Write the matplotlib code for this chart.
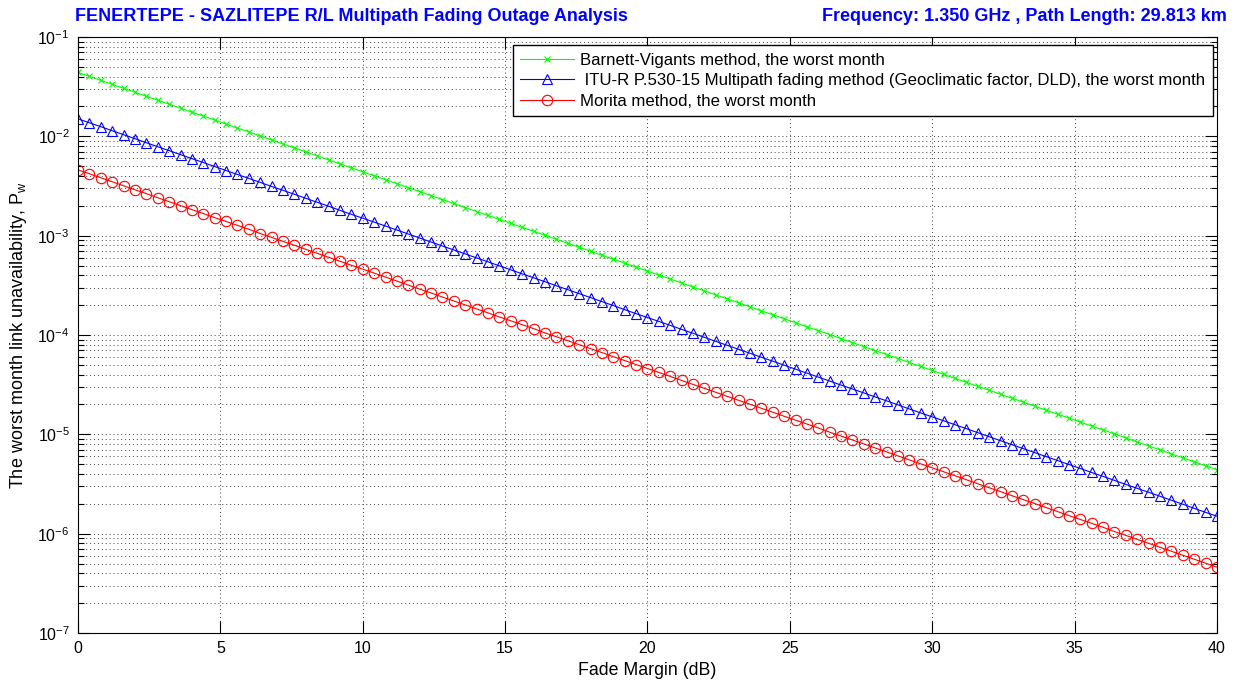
"""Multipath fading outage analysis: worst month unavailability vs fade margin."""

import matplotlib

matplotlib.use("Agg")
import matplotlib.pyplot as plt
import numpy as np
from matplotlib.ticker import FixedLocator, LogLocator, NullFormatter

plt.rcParams["font.family"] = ["Liberation Sans", "DejaVu Sans"]

# %% Data (one point every 0.4 dB)
fade_margin = np.linspace(0, 40, 101)

barnett_vigants = [
    4.40e-2, 4.01e-2, 3.66e-2, 3.34e-2, 3.04e-2, 2.78e-2, 2.53e-2, 2.31e-2, 2.11e-2, 1.92e-2,
    1.75e-2, 1.60e-2, 1.46e-2, 1.33e-2, 1.21e-2, 1.11e-2, 1.01e-2, 9.19e-3, 8.38e-3, 7.65e-3,
    6.97e-3, 6.36e-3, 5.80e-3, 5.29e-3, 4.82e-3,
    4.40e-3, 4.01e-3, 3.66e-3, 3.34e-3, 3.04e-3, 2.78e-3, 2.53e-3, 2.31e-3, 2.11e-3, 1.92e-3,
    1.75e-3, 1.60e-3, 1.46e-3, 1.33e-3, 1.21e-3, 1.11e-3, 1.01e-3, 9.19e-4, 8.38e-4, 7.65e-4,
    6.97e-4, 6.36e-4, 5.80e-4, 5.29e-4, 4.82e-4,
    4.40e-4, 4.01e-4, 3.66e-4, 3.34e-4, 3.04e-4, 2.78e-4, 2.53e-4, 2.31e-4, 2.11e-4, 1.92e-4,
    1.75e-4, 1.60e-4, 1.46e-4, 1.33e-4, 1.21e-4, 1.11e-4, 1.01e-4, 9.19e-5, 8.38e-5, 7.65e-5,
    6.97e-5, 6.36e-5, 5.80e-5, 5.29e-5, 4.82e-5,
    4.40e-5, 4.01e-5, 3.66e-5, 3.34e-5, 3.04e-5, 2.78e-5, 2.53e-5, 2.31e-5, 2.11e-5, 1.92e-5,
    1.75e-5, 1.60e-5, 1.46e-5, 1.33e-5, 1.21e-5, 1.11e-5, 1.01e-5, 9.19e-6, 8.38e-6, 7.65e-6,
    6.97e-6, 6.36e-6, 5.80e-6, 5.29e-6, 4.82e-6,
    4.40e-6,
]

itu_r_p530 = [
    1.50e-2, 1.37e-2, 1.25e-2, 1.14e-2, 1.04e-2, 9.47e-3, 8.63e-3, 7.87e-3, 7.18e-3, 6.55e-3,
    5.97e-3, 5.45e-3, 4.97e-3, 4.53e-3, 4.13e-3, 3.77e-3, 3.44e-3, 3.13e-3, 2.86e-3, 2.61e-3,
    2.38e-3, 2.17e-3, 1.98e-3, 1.80e-3, 1.64e-3,
    1.50e-3, 1.37e-3, 1.25e-3, 1.14e-3, 1.04e-3, 9.47e-4, 8.63e-4, 7.87e-4, 7.18e-4, 6.55e-4,
    5.97e-4, 5.45e-4, 4.97e-4, 4.53e-4, 4.13e-4, 3.77e-4, 3.44e-4, 3.13e-4, 2.86e-4, 2.61e-4,
    2.38e-4, 2.17e-4, 1.98e-4, 1.80e-4, 1.64e-4,
    1.50e-4, 1.37e-4, 1.25e-4, 1.14e-4, 1.04e-4, 9.47e-5, 8.63e-5, 7.87e-5, 7.18e-5, 6.55e-5,
    5.97e-5, 5.45e-5, 4.97e-5, 4.53e-5, 4.13e-5, 3.77e-5, 3.44e-5, 3.13e-5, 2.86e-5, 2.61e-5,
    2.38e-5, 2.17e-5, 1.98e-5, 1.80e-5, 1.64e-5,
    1.50e-5, 1.37e-5, 1.25e-5, 1.14e-5, 1.04e-5, 9.47e-6, 8.63e-6, 7.87e-6, 7.18e-6, 6.55e-6,
    5.97e-6, 5.45e-6, 4.97e-6, 4.53e-6, 4.13e-6, 3.77e-6, 3.44e-6, 3.13e-6, 2.86e-6, 2.61e-6,
    2.38e-6, 2.17e-6, 1.98e-6, 1.80e-6, 1.64e-6,
    1.50e-6,
]

morita = [
    4.60e-3, 4.20e-3, 3.83e-3, 3.49e-3, 3.18e-3, 2.90e-3, 2.65e-3, 2.41e-3, 2.20e-3, 2.01e-3,
    1.83e-3, 1.67e-3, 1.52e-3, 1.39e-3, 1.27e-3, 1.16e-3, 1.05e-3, 9.61e-4, 8.76e-4, 8.00e-4,
    7.29e-4, 6.65e-4, 6.06e-4, 5.53e-4, 5.04e-4,
    4.60e-4, 4.20e-4, 3.83e-4, 3.49e-4, 3.18e-4, 2.90e-4, 2.65e-4, 2.41e-4, 2.20e-4, 2.01e-4,
    1.83e-4, 1.67e-4, 1.52e-4, 1.39e-4, 1.27e-4, 1.16e-4, 1.05e-4, 9.61e-5, 8.76e-5, 8.00e-5,
    7.29e-5, 6.65e-5, 6.06e-5, 5.53e-5, 5.04e-5,
    4.60e-5, 4.20e-5, 3.83e-5, 3.49e-5, 3.18e-5, 2.90e-5, 2.65e-5, 2.41e-5, 2.20e-5, 2.01e-5,
    1.83e-5, 1.67e-5, 1.52e-5, 1.39e-5, 1.27e-5, 1.16e-5, 1.05e-5, 9.61e-6, 8.76e-6, 8.00e-6,
    7.29e-6, 6.65e-6, 6.06e-6, 5.53e-6, 5.04e-6,
    4.60e-6, 4.20e-6, 3.83e-6, 3.49e-6, 3.18e-6, 2.90e-6, 2.65e-6, 2.41e-6, 2.20e-6, 2.01e-6,
    1.83e-6, 1.67e-6, 1.52e-6, 1.39e-6, 1.27e-6, 1.16e-6, 1.05e-6, 9.61e-7, 8.76e-7, 8.00e-7,
    7.29e-7, 6.65e-7, 6.06e-7, 5.53e-7, 5.04e-7,
    4.60e-7,
]

labels = [
    "Barnett-Vigants method, the worst month",
    " ITU-R P.530-15 Multipath fading method (Geoclimatic factor, DLD), the worst month",
    "Morita method, the worst month",
]
x_ticks = [0, 5, 10, 15, 20, 25, 30, 35, 40]
y_exponents = [-7, -6, -5, -4, -3, -2, -1]

title_left = "FENERTEPE - SAZLITEPE R/L Multipath Fading Outage Analysis"
title_right = "Frequency: 1.350 GHz , Path Length: 29.813 km"

# %% Plot
fig = plt.figure(figsize=(12.46, 6.83), dpi=100)
ax = fig.add_axes([0.0626, 0.0732, 0.9141, 0.8726])

ax.semilogy(fade_margin, barnett_vigants, color=(0, 1, 0), linewidth=0.8,
            marker="x", markersize=5, markeredgewidth=0.8, label=labels[0])
ax.semilogy(fade_margin, itu_r_p530, color=(0, 0, 1), linewidth=0.8,
            marker="^", markersize=7.5, markerfacecolor="none",
            markeredgewidth=0.8, label=labels[1])
ax.semilogy(fade_margin, morita, color=(1, 0, 0), linewidth=0.8,
            marker="o", markersize=7.5, markerfacecolor="none",
            markeredgewidth=0.8, label=labels[2])

ax.set_xlim(0, 40)
ax.set_ylim(1e-7, 1e-1)
ax.xaxis.set_major_locator(FixedLocator(x_ticks))
ax.set_xticklabels([str(t) for t in x_ticks])
ax.set_yticks([10.0 ** e for e in y_exponents])
ax.set_yticklabels([r"$\mathregular{10^{%d}}$" % e for e in y_exponents])
ax.yaxis.set_minor_locator(LogLocator(base=10, subs=np.arange(2, 10)))
ax.yaxis.set_minor_formatter(NullFormatter())

ax.tick_params(which="both", direction="in", top=True, right=True,
               labelsize=11.5, colors="black", width=0.8)
ax.tick_params(which="major", length=8.5, pad=6)
ax.tick_params(which="minor", length=4.3)

grid_style = dict(linestyle=(0, (1, 3)), color="0.25", linewidth=0.7)
ax.grid(True, which="major", **grid_style)
ax.grid(True, which="minor", axis="y", **grid_style)

for spine in ax.spines.values():
    spine.set_color("black")
    spine.set_linewidth(0.8)

ax.set_xlabel("Fade Margin (dB)", fontsize=12.8, labelpad=4)
ax.set_ylabel(r"The worst month link unavailability, $\mathregular{P_w}$",
              fontsize=13, labelpad=6)

ax.legend(loc="upper right", bbox_to_anchor=(0.9965, 0.9866), fontsize=12.1,
          fancybox=False, framealpha=1, edgecolor="black",
          handlelength=3.2, handletextpad=0.36, labelspacing=0.33,
          borderpad=0.45, borderaxespad=0)

fig.text(0.0602, 0.976, title_left, color=(0, 0, 1), fontsize=13,
         fontweight="bold", ha="left", va="center")
fig.text(0.985, 0.976, title_right, color=(0, 0, 1), fontsize=13,
         fontweight="bold", ha="right", va="center")

fig.savefig("out.png", dpi=100)
